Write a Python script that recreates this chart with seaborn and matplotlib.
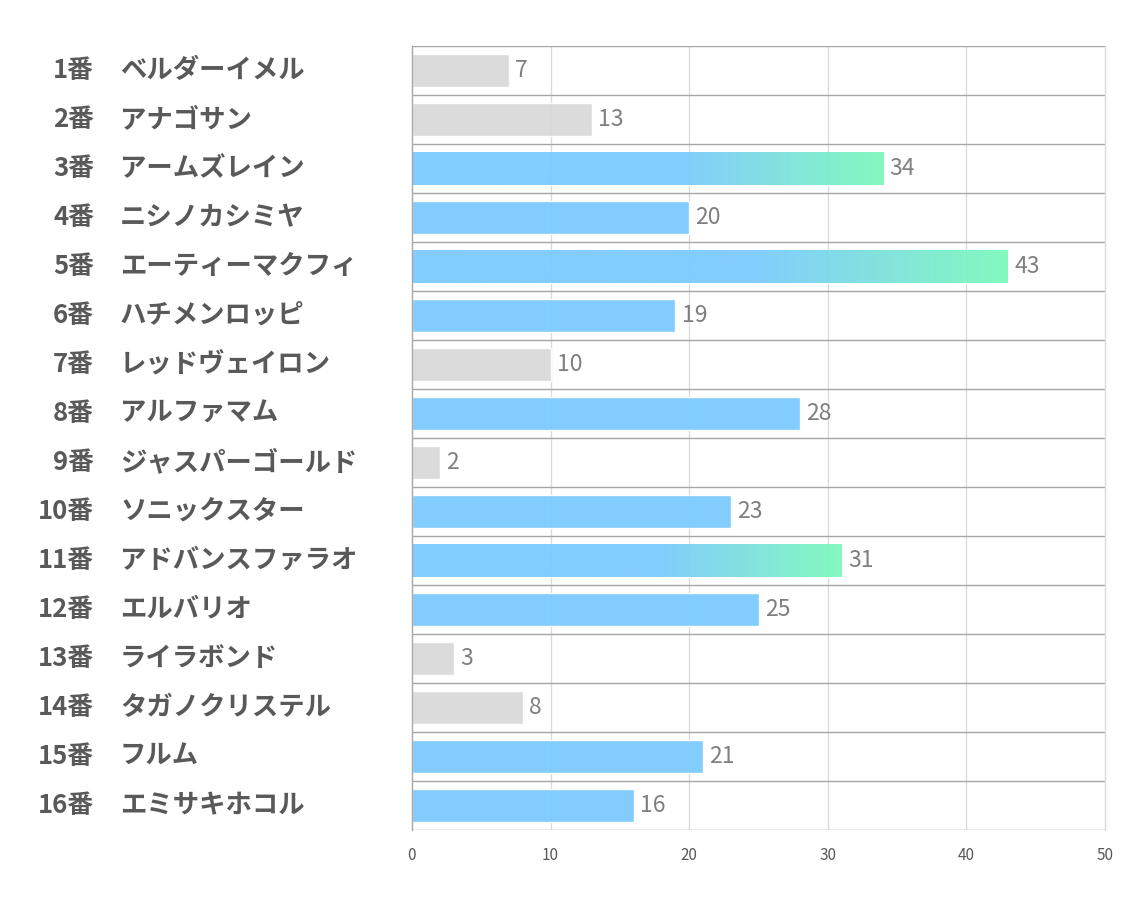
import numpy as np
import pandas as pd
import matplotlib
matplotlib.use("Agg")
import matplotlib.pyplot as plt
import seaborn as sns
from matplotlib.colors import LinearSegmentedColormap

numbers = ["1番", "2番", "3番", "4番", "5番", "6番", "7番", "8番",
           "9番", "10番", "11番", "12番", "13番", "14番", "15番", "16番"]
names = ["ベルダーイメル", "アナゴサン", "アームズレイン", "ニシノカシミヤ",
         "エーティーマクフィ", "ハチメンロッピ", "レッドヴェイロン", "アルファマム",
         "ジャスパーゴールド", "ソニックスター", "アドバンスファラオ", "エルバリオ",
         "ライラボンド", "タガノクリステル", "フルム", "エミサキホコル"]
values = [7, 13, 34, 20, 43, 19, 10, 28, 2, 23, 31, 25, 3, 8, 21, 16]
groups = ["gray", "gray", "grad", "blue", "grad", "blue", "gray", "blue",
          "gray", "blue", "grad", "blue", "gray", "gray", "blue", "blue"]
xticks = [0, 10, 20, 30, 40, 50]

sns.set_theme(style="white")
plt.rcParams['font.family'] = ['Noto Sans CJK JP', 'DejaVu Sans']

BLUE = "#7BCBFD"
GREEN = "#7DF9BC"
GRAY = "#D9D9D9"

df = pd.DataFrame({"label": [f"{n} {m}" for n, m in zip(numbers, names)],
                   "value": values, "group": groups})

fig = plt.figure(figsize=(11.34, 9.07), dpi=100)
ax = fig.add_axes([412/1134, 1-830/907, (1105-412)/1134, (830-46)/907])

sns.barplot(data=df, x="value", y="label", hue="group",
            palette={"gray": GRAY, "blue": BLUE, "grad": BLUE},
            dodge=False, legend=False, orient="h", width=0.67,
            saturation=1, ax=ax, zorder=2)

ax.set_xlim(0, 50)
ax.set_ylim(15.5, -0.5)

cmap = LinearSegmentedColormap.from_list(
    "g", [(0, BLUE), (0.58, BLUE), (1.0, GREEN)])
grad = np.linspace(0, 1, 256).reshape(1, -1)
for p in ax.patches:
    h = p.get_height()
    w = p.get_width()
    if h <= 0 or w <= 0:
        continue
    idx = int(round(p.get_y() + h / 2))
    p.set_alpha(0.95)
    if groups[idx] == "grad":
        p.set_facecolor("none")
        im = ax.imshow(grad, cmap=cmap, aspect="auto",
                       extent=[p.get_x(), p.get_x() + w, p.get_y() + h, p.get_y()],
                       zorder=2, alpha=0.95, interpolation="bilinear")
        im.set_clip_path(p)
ax.set_xlim(0, 50)
ax.set_ylim(15.5, -0.5)

# value labels
for i, v in enumerate(values):
    ax.text(v + 0.45, i, str(v), va="center", ha="left", fontsize=16.5,
            color="#7F7F7F", zorder=3)

# grid
for x in xticks[1:-1]:
    ax.axvline(x, color="#D9D9D9", lw=0.9, zorder=0)
for yb in np.arange(-0.5, 16, 1):
    ax.axhline(yb, color="#A6A6A6", lw=1.0, zorder=1)

for s in ["top", "bottom"]:
    ax.spines[s].set_visible(False)
ax.spines["left"].set_color("#A6A6A6")
ax.spines["right"].set_color("#D9D9D9")
ax.spines["left"].set_linewidth(1.0)
ax.spines["right"].set_linewidth(1.0)

ax.set_xticks(xticks)
ax.set_xticklabels([str(t) for t in xticks], fontsize=11, color="#595959")
ax.tick_params(axis="x", length=0, pad=12)
ax.set_yticks([])
ax.set_xlabel("")
ax.set_ylabel("")

trans = ax.get_yaxis_transform()
for i, (n, m) in enumerate(zip(numbers, names)):
    ax.text(-(412-94)/693, i, n, transform=trans, ha="right", va="center",
            fontsize=18.5, fontweight="bold", color="#595959")
    ax.text(-(412-120)/693, i, m, transform=trans, ha="left", va="center",
            fontsize=19, fontweight="bold", color="#595959")

fig.savefig("out.png", dpi=100)
